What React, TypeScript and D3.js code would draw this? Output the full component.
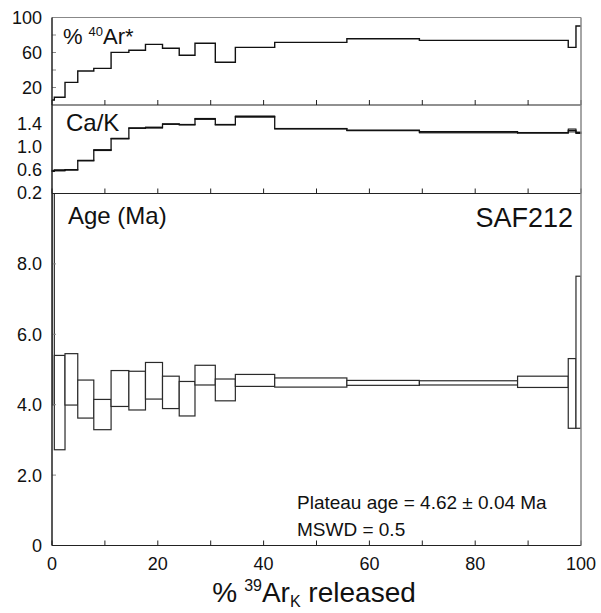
import React from "react";
import * as d3 from "d3";

// cumulative % 39ArK released (step boundaries)
const cumBounds = [0, 0.44, 2.46, 4.87, 7.9, 11.17, 14.53, 17.67, 20.89, 24.05, 27.03, 30.87, 34.66, 42.1, 55.74, 69.45, 88.01, 97.59, 99.05, 100];
// % 40Ar* per step
const arStar = [5.7, 8.8, 25.9, 38.9, 41.9, 60.2, 62.5, 69.3, 64.8, 56.8, 70.5, 48.8, 65.9, 71.6, 75.8, 73.9, 73.9, 65.9, 90.3];
// Ca/K per step
const caK = [0.58, 0.59, 0.6, 0.76, 0.94, 1.14, 1.32, 1.33, 1.39, 1.38, 1.48, 1.38, 1.52, 1.31, 1.28, 1.25, 1.24, 1.28, 1.24];
const caKErr = [0.01, 0.01, 0.005, 0.005, 0.008, 0.005, 0.005, 0.008, 0.005, 0.005, 0.008, 0.005, 0.01, 0.005, 0.005, 0.012, 0.005, 0.025, 0.012];
// Apparent age (Ma) and error
const age = [8.0, 4.06, 4.72, 4.16, 3.72, 4.46, 4.4, 4.68, 4.35, 4.17, 4.84, 4.42, 4.69, 4.63, 4.62, 4.62, 4.65, 4.32, 5.49];
const ageErr = [4.0, 1.34, 0.73, 0.54, 0.43, 0.51, 0.55, 0.52, 0.46, 0.49, 0.28, 0.31, 0.17, 0.13, 0.07, 0.06, 0.16, 0.99, 2.16];

const xTicks = [0, 10, 20, 30, 40, 50, 60, 70, 80, 90, 100];
const xTickLabels = [0, 20, 40, 60, 80, 100];
const arTicks = [20, 40, 60, 80];
const arTickLabels = ["100", "60", "20"];
const arTickLabelVals = [100, 60, 20];
const caTickLabelVals = [1.4, 1.0, 0.6, 0.2];
const ageTicks = [2, 4, 6, 8];
const ageTickLabelVals = [8, 6, 4, 2, 0];

const FONT = "'Liberation Sans', Arial, Helvetica, sans-serif";

export default function App() {
  const W = 601, H = 613;
  const x0 = 52, x1 = 581;
  const x = d3.scaleLinear().domain([0, 100]).range([x0, x1]);
  const pTop = { t: 17.5, b: 105 };
  const pCa = { t: 105, b: 193.5 };
  const pAge = { t: 193.5, b: 545.5 };
  const yAr = d3.scaleLinear().domain([0, 100]).range([pTop.b, pTop.t]);
  const yCa = d3.scaleLinear().domain([0.19, 1.72]).range([pCa.b, pCa.t]);
  const yAge = d3.scaleLinear().domain([0, 10]).range([pAge.b, pAge.t]);

  const stepPts = (vals: number[]) => {
    const pts: [number, number][] = vals.map((v, i) => [cumBounds[i], v]);
    pts.push([cumBounds[cumBounds.length - 1], vals[vals.length - 1]]);
    return pts;
  };
  const arLine = d3.line<[number, number]>().x(d => x(d[0])).y(d => yAr(d[1])).curve(d3.curveStepAfter)(stepPts(arStar)) || "";
  const caLine = d3.line<[number, number]>().x(d => x(d[0])).y(d => yCa(d[1])).curve(d3.curveStepAfter)(stepPts(caK)) || "";

  const dark = "#222";
  const grey = "#888";

  return (
    <svg width={W} height={H} style={{ position: "absolute", left: 0, top: 0, background: "#fff" }} fontFamily={FONT}>
      <defs>
        <clipPath id="ageClip">
          <rect x={x0} y={pAge.t} width={x1 - x0} height={pAge.b - pAge.t} />
        </clipPath>
      </defs>
      <rect x={0} y={0} width={W} height={H} fill="#fff" />

      {/* Top panel: %40Ar* */}
      <path d={arLine} fill="none" stroke="#111" strokeWidth={1.4} />
      {arTicks.map(t => (
        <line key={"at" + t} x1={x0} x2={x0 + 4} y1={yAr(t)} y2={yAr(t)} stroke={grey} strokeWidth={1} />
      ))}
      {arTickLabelVals.map((v, i) => (
        <text key={"al" + v} x={42} y={yAr(v)} dy="0.36em" textAnchor="end" fontSize={18} fill="#111">{arTickLabels[i]}</text>
      ))}
      <text x={63} y={44} fontSize={22} fill="#111">
        %<tspan dx="6" dy="-8" fontSize={13}>40</tspan><tspan dy="8">Ar*</tspan>
      </text>

      {/* Middle panel: Ca/K */}
      {caK.map((v, i) => (
        <rect key={"cb" + i} x={x(cumBounds[i])} width={x(cumBounds[i + 1]) - x(cumBounds[i])}
          y={yCa(v + caKErr[i])} height={Math.max(0, yCa(v - caKErr[i]) - yCa(v + caKErr[i]))}
          fill="none" stroke="#111" strokeWidth={1} />
      ))}
      <path d={caLine} fill="none" stroke="#111" strokeWidth={1.3} />
      {caTickLabelVals.map(v => (
        <text key={"cl" + v} x={42} y={yCa(v)} dy="0.36em" textAnchor="end" fontSize={18} fill="#111">{v.toFixed(1)}</text>
      ))}
      <text x={66} y={131} fontSize={24} fill="#111">Ca/K</text>

      {/* Main panel: age spectrum */}
      <g clipPath="url(#ageClip)">
        {age.map((a, i) => (
          <rect key={"ab" + i} x={x(cumBounds[i])} width={x(cumBounds[i + 1]) - x(cumBounds[i])}
            y={yAge(a + ageErr[i])} height={yAge(a - ageErr[i]) - yAge(a + ageErr[i])}
            fill="#fff" stroke="#2a2a2a" strokeWidth={1.2} />
        ))}
      </g>
      {ageTicks.map(t => (
        <line key={"gt" + t} x1={x0} x2={x0 + 4} y1={yAge(t)} y2={yAge(t)} stroke={grey} strokeWidth={1} />
      ))}
      {ageTickLabelVals.map(v => (
        <text key={"gl" + v} x={42} y={yAge(v)} dy="0.36em" textAnchor="end" fontSize={18} fill="#111">{v === 0 ? "0" : v.toFixed(1)}</text>
      ))}
      <text x={68} y={224} fontSize={24} fill="#111">Age (Ma)</text>
      <text x={573} y={227} fontSize={27} textAnchor="end" fill="#111">SAF212</text>
      <text x={297} y={509} fontSize={19} fill="#111">Plateau age = 4.62 ± 0.04 Ma</text>
      <text x={297} y={536} fontSize={19} fill="#111">MSWD = 0.5</text>

      {/* x ticks (pointing up from each panel bottom) */}
      {[pTop.b, pCa.b, pAge.b].map((yb, j) =>
        xTicks.map(t => (
          <line key={"xt" + j + "-" + t} x1={x(t)} x2={x(t)} y1={yb} y2={yb - 5} stroke={dark} strokeWidth={1} />
        ))
      )}
      {xTickLabels.map(t => (
        <text key={"xl" + t} x={x(t)} y={570} textAnchor="middle" fontSize={18} fill="#111">{t}</text>
      ))}

      {/* frames */}
      <line x1={x0} x2={x1} y1={pTop.t} y2={pTop.t} stroke={grey} strokeWidth={1.2} />
      <line x1={x0} x2={x1} y1={pTop.b} y2={pTop.b} stroke={dark} strokeWidth={1.2} />
      <line x1={x0} x2={x1} y1={pCa.b} y2={pCa.b} stroke={dark} strokeWidth={1.2} />
      <line x1={x0} x2={x1} y1={pAge.b} y2={pAge.b} stroke={dark} strokeWidth={1.2} />
      <line x1={x0} x2={x0} y1={pTop.t} y2={pAge.b} stroke={dark} strokeWidth={1.5} />
      <line x1={x1} x2={x1} y1={pTop.t} y2={pAge.b} stroke={grey} strokeWidth={1.5} />

      {/* x axis title */}
      <text x={314} y={602} textAnchor="middle" fontSize={28} fill="#111">
        %<tspan dx="7" dy="-11" fontSize={16}>39</tspan><tspan dy="11">Ar</tspan><tspan dy="5" fontSize={16}>K</tspan><tspan dy="-5"> released</tspan>
      </text>
    </svg>
  );
}
